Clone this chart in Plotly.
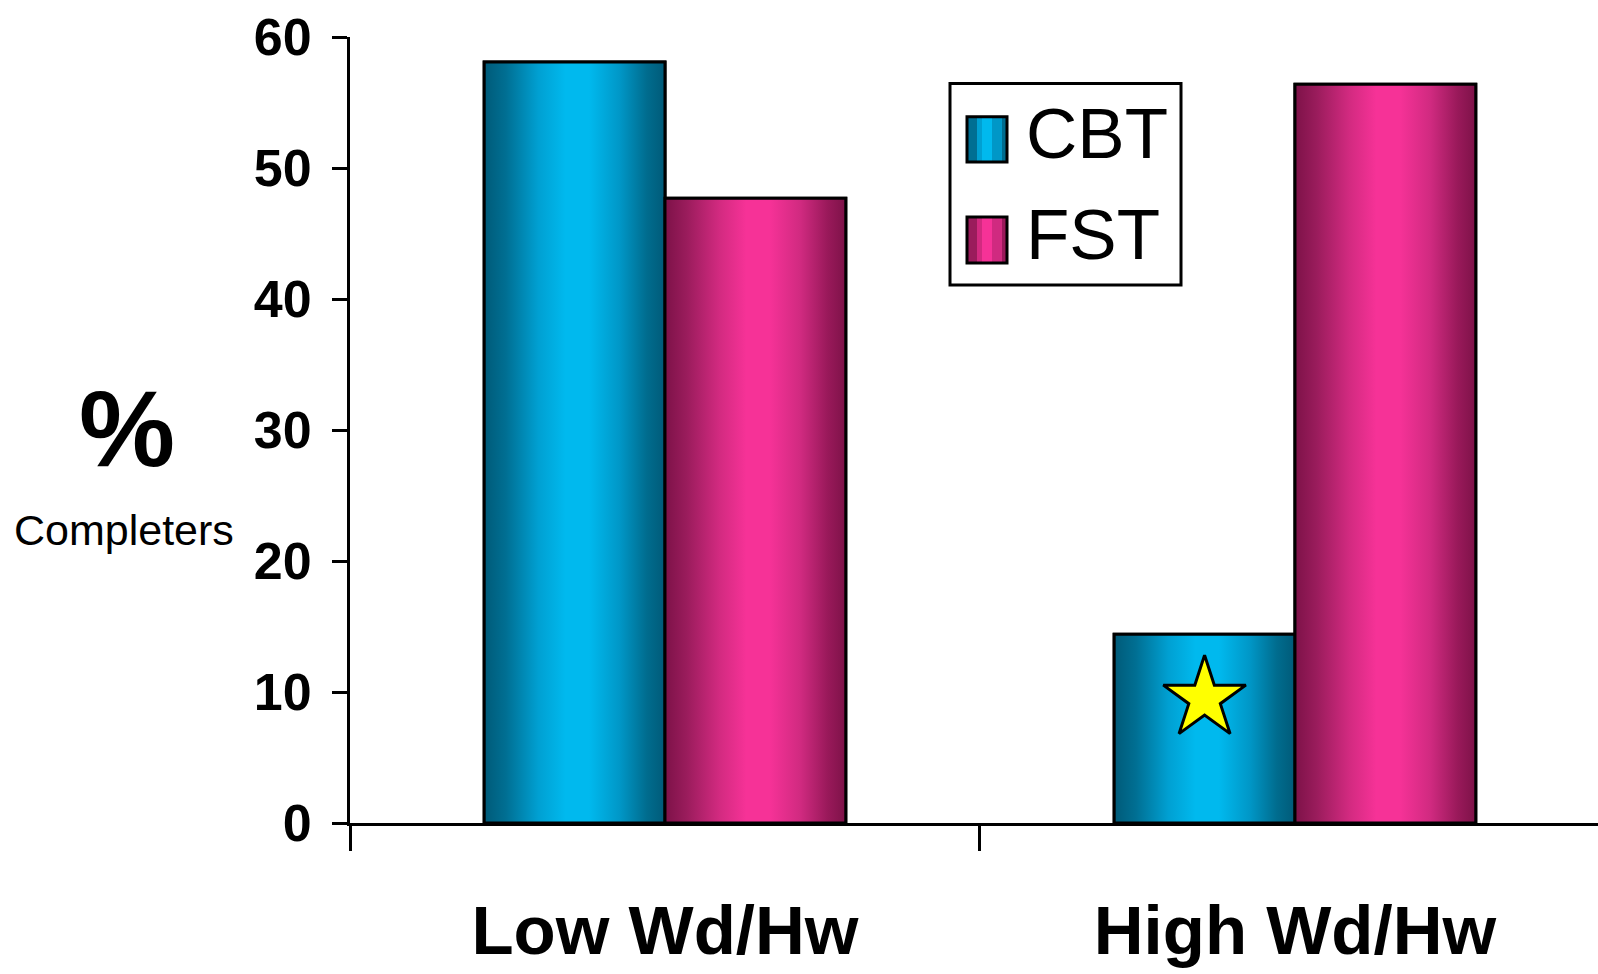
import plotly.graph_objects as go

# ---------------- data ----------------
categories = ["Low Wd/Hw", "High Wd/Hw"]
series_names = ["CBT", "FST"]
cbt_values = [58.1, 14.4]
fst_values = [47.7, 56.4]
y_tick_values = [0, 10, 20, 30, 40, 50, 60]
star_category = "High Wd/Hw"
star_series = "CBT"
star_value = 9.5

# ---------------- style ----------------
W, H = 1598, 974
M_L, M_R, M_T, M_B = 350, 0, 37, 151
X_RANGE = [-0.5, 1.481]
Y_RANGE = [0, 60]
BARGAP = 0.426
FONT = "Liberation Sans, Arial, sans-serif"

colorscales = {
    "CBT": [[0, "#005A78"], [0.12, "#006F93"], [0.3, "#00A0D2"], [0.45, "#00B9EE"],
            [0.58, "#00B9EE"], [0.75, "#0097C7"], [0.9, "#006C8E"], [1, "#005A78"]],
    "FST": [[0, "#7D1248"], [0.12, "#9A1C5C"], [0.3, "#D22A80"], [0.45, "#F63297"],
            [0.58, "#F63297"], [0.75, "#D02A80"], [0.9, "#99195A"], [1, "#7D1248"]],
}
mid_colors = {"CBT": "#00A6DA", "FST": "#E02C88"}

values = {"CBT": cbt_values, "FST": fst_values}
positions = list(range(len(categories)))
group_w = 1 - BARGAP
bar_w = group_w / len(series_names)

fig = go.Figure()

# real bars
for s, name in enumerate(series_names):
    off = -group_w / 2 + s * bar_w
    fig.add_trace(go.Bar(
        x=positions, y=values[name], name=name, width=bar_w, offset=off,
        marker=dict(color=mid_colors[name], line=dict(color="black", width=3)),
        hoverinfo="x+y+name",
    ))

# cylinder shading for each bar (same geometry, horizontal gradient fill)
for s, name in enumerate(series_names):
    off = -group_w / 2 + s * bar_w
    for p, v in zip(positions, values[name]):
        x0 = p + off
        x1 = x0 + bar_w
        fig.add_trace(go.Scatter(
            x=[x0, x1, x1, x0, x0], y=[0, 0, v, v, 0],
            mode="lines", fill="toself",
            fillgradient=dict(type="horizontal", colorscale=colorscales[name]),
            line=dict(color="black", width=3),
            hoverinfo="skip", showlegend=False,
        ))

# significance star
si = series_names.index(star_series)
star_x = categories.index(star_category) - group_w / 2 + si * bar_w + bar_w / 2
fig.add_trace(go.Scatter(
    x=[star_x], y=[star_value], mode="markers",
    marker=dict(symbol="star", size=62, color="#FFFF00",
                line=dict(color="black", width=3)),
    hoverinfo="skip", showlegend=False,
))

boundaries = [p - 0.5 for p in positions] + [positions[-1] + 0.5]

fig.update_layout(
    width=W, height=H,
    margin=dict(l=M_L, r=M_R, t=M_T, b=M_B),
    paper_bgcolor="white", plot_bgcolor="white",
    showlegend=False, barmode="overlay",
    xaxis=dict(
        range=X_RANGE, tickmode="array", tickvals=positions, ticktext=categories,
        ticks="", showline=True, linewidth=3, linecolor="black",
        showgrid=False, zeroline=False,
        tickfont=dict(family=FONT, size=69, color="black", weight="bold"),
        ticklabelstandoff=45,
        minor=dict(tickmode="array", tickvals=boundaries, ticks="outside",
                   ticklen=25, tickwidth=3, tickcolor="black", showgrid=False),
    ),
    yaxis=dict(
        range=Y_RANGE, tickmode="array", tickvals=y_tick_values,
        ticks="outside", ticklen=15, tickwidth=3, tickcolor="black",
        showline=True, linewidth=3, linecolor="black",
        showgrid=False, zeroline=False,
        tickfont=dict(family=FONT, size=52, color="black", weight="bold"),
        ticklabelstandoff=10,
    ),
)

# helpers: page pixel -> paper fraction
PW = W - M_L - M_R
PH = H - M_T - M_B


def px_x(px):
    return (px - M_L) / PW


def px_y(py):
    return (H - M_B - py) / PH


# y-axis title: big % and "Completers"
fig.add_annotation(text="%", xref="paper", yref="paper", x=px_x(127), y=px_y(428),
                   xanchor="center", yanchor="middle", showarrow=False,
                   font=dict(family=FONT, size=108, color="black", weight="bold"))
fig.add_annotation(text="Completers", xref="paper", yref="paper", x=px_x(124), y=px_y(530),
                   xanchor="center", yanchor="middle", showarrow=False,
                   font=dict(family=FONT, size=43, color="black"))

# legend box (custom, to match large swatches)
fig.add_shape(type="rect", xref="paper", yref="paper",
              x0=px_x(950), x1=px_x(1181), y0=px_y(285), y1=px_y(83.5),
              line=dict(color="black", width=3), fillcolor="white", layer="above")

swatch_rows = {"CBT": (116.7, 162.0, 134), "FST": (217.0, 263.0, 235)}
n_strips = 8
for name in series_names:
    top, bot, ty = swatch_rows[name]
    sx0, sx1 = 967, 1007
    cs = colorscales[name]
    for k in range(n_strips):
        t = (k + 0.5) / n_strips
        col = min(cs, key=lambda c: abs(c[0] - t))[1]
        fig.add_shape(type="rect", xref="paper", yref="paper",
                      x0=px_x(sx0 + (sx1 - sx0) * k / n_strips),
                      x1=px_x(sx0 + (sx1 - sx0) * (k + 1) / n_strips),
                      y0=px_y(bot), y1=px_y(top),
                      line=dict(width=0), fillcolor=col, layer="above")
    fig.add_shape(type="rect", xref="paper", yref="paper",
                  x0=px_x(sx0), x1=px_x(sx1), y0=px_y(bot), y1=px_y(top),
                  line=dict(color="black", width=3), fillcolor="rgba(0,0,0,0)",
                  layer="above")
    fig.add_annotation(text=name, xref="paper", yref="paper",
                       x=px_x(1024), y=px_y(ty), xanchor="left", yanchor="middle",
                       showarrow=False,
                       font=dict(family=FONT, size=71, color="black"))

fig.write_html(
    "out.html",
    config={"displayModeBar": False},
    post_script="document.body.style.margin='0';document.body.style.overflow='hidden';",
)
